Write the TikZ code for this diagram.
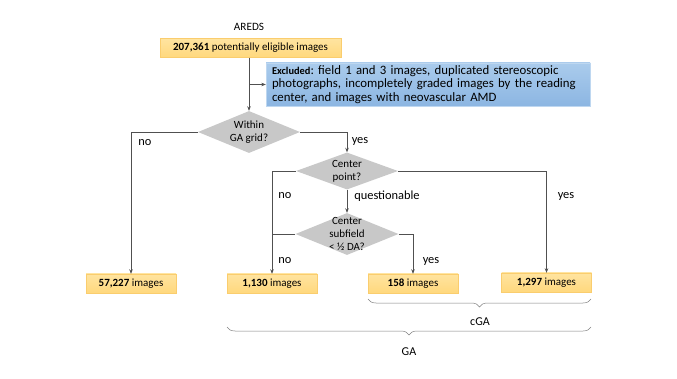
\documentclass[tikz,border=0pt]{standalone}
\usepackage{fontspec}
\setmainfont{Carlito}
\frenchspacing
\usetikzlibrary{shapes.geometric,decorations.pathreplacing,arrows.meta}
\definecolor{boxfill}{RGB}{255,216,125}
\definecolor{boxtop}{RGB}{255,228,160}
\definecolor{boxdraw}{RGB}{250,205,110}
\definecolor{exfill}{RGB}{140,182,226}
\definecolor{extop}{RGB}{170,203,236}
\definecolor{exdraw}{RGB}{190,215,240}
\definecolor{dfill}{RGB}{200,200,200}
\definecolor{lcol}{RGB}{80,80,80}
\tikzset{
  imgbox/.style={draw=boxdraw, top color=boxtop, bottom color=boxfill, minimum width=90pt, minimum height=19pt, inner sep=0pt, font=\fontsize{11}{12}\selectfont},
  exbox/.style={draw=exdraw, top color=extop, bottom color=exfill, minimum width=324pt, minimum height=43pt, inner sep=0pt, text width=312pt, align=left, font=\fontsize{12.8}{13.8}\selectfont},
  dec/.style={diamond, fill=dfill, draw=none, minimum width=102pt, minimum height=40pt, inner sep=0pt},
  dtext/.style={align=center, inner sep=0pt, font=\fontsize{11}{13}\selectfont},
  conn/.style={draw=lcol, line width=0.6pt},
  arr/.style={conn, -{Stealth[length=4.5pt,width=3.5pt]}},
  lab/.style={font=\fontsize{12.4}{13}\selectfont, inner sep=0pt},
  brc/.style={draw=gray, line width=0.5pt, decorate, decoration={brace, mirror, amplitude=8pt}}
}
\begin{document}
\begin{tikzpicture}[x=1pt,y=-1pt]
\useasboundingbox (0,0) rectangle (677,379);
\node[lab, font=\fontsize{11.2}{12}\selectfont] (areds) at (249,27) {AREDS};
\node[imgbox, minimum width=181pt] (top) at (250.5,48) {\textbf{207,361} potentially eligible images};
\node[exbox] (ex) at (428,84.5) {{\fontsize{10.4}{11}\selectfont\textbf{Excluded}}: field 1 and 3 images, duplicated stereoscopic\\ photographs, incompletely graded images by the reading\\ center, and images with neovascular AMD};
\node[dec, minimum height=42pt] (d1) at (249,132) {};
\node[dtext] (t1) at (d1) {Within\\GA grid?};
\node[dec, minimum height=37pt] (d2) at (347,171) {};
\node[dtext] (t2) at (d2) {Center\\point?};
\node[dec, minimum height=42pt, minimum width=103pt] (d3) at (347,234) {};
\node[dtext] (t3) at (d3) {Center\\subfield\\< ½ DA?};
\node[imgbox] (b1) at (131,283.5) {\textbf{57,227} images};
\node[imgbox] (b2) at (272,283.5) {\textbf{1,130} images};
\node[imgbox] (b3) at (413,283.5) {\textbf{158} images};
\node[imgbox] (b4) at (546.5,282.5) {\textbf{1,297} images};
\coordinate (j) at (249,84.5);
\draw[arr] (top.south -| d1.north) -- (d1.north);
\draw[arr] (j) -- (ex.west);
\draw[arr] (d1.west) -| (b1.north);
\draw[arr] (d1.east) -| (d2.north);
\draw[arr] (d2.west) -| (b2.north);
\draw[arr] (d2.east) -| (b4.north);
\draw[arr] (d2.south) -- (d3.north);
\draw[conn] (d3.west) -- (d3.west -| b2.north);
\draw[arr] (d3.east) -| (b3.north);
\node[lab] (l1) at (145,143) {no};
\node[lab] (l2) at (360,141) {yes};
\node[lab] (l3) at (285,196) {no};
\node[lab] (l4) at (387,196) {questionable};
\node[lab] (l5) at (566,196) {yes};
\node[lab] (l6) at (285,261) {no};
\node[lab] (l7) at (431,261) {yes};
\coordinate (c1) at (368,299);
\coordinate (c2) at (591,299);
\coordinate (g1) at (227,327);
\coordinate (g2) at (591,327);
\draw[brc] (c1) -- (c2);
\draw[brc] (g1) -- (g2);
\node[lab, font=\fontsize{12}{13}\selectfont] (cga) at (480,322) {cGA};
\node[lab, font=\fontsize{12}{13}\selectfont] (ga) at (409,352) {GA};
\end{tikzpicture}
\end{document}
